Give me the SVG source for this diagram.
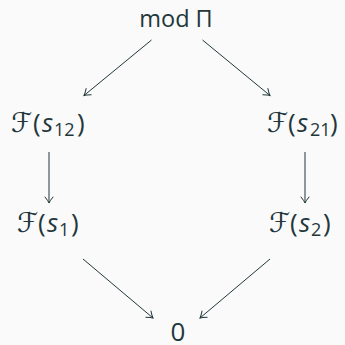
<svg xmlns="http://www.w3.org/2000/svg" width="345" height="345" viewBox="0 0 345 345">
<defs>
<marker id="ah" viewBox="-8 -5 10 10" markerWidth="10" markerHeight="10" refX="0" refY="0" orient="auto" markerUnits="userSpaceOnUse">
<path d="M-6,-4 Q-2,-0.8 0,0 Q-2,0.8 -6,4" fill="none" stroke="#23373b" stroke-width="1" stroke-linecap="round"/>
</marker>
</defs>
<style>
text{font-family:"Open Sans","DejaVu Sans",sans-serif;font-size:26px;fill:#23373b}
.it{font-style:italic}
.sub{font-size:18px}
.cal{font-family:"DejaVu Sans",sans-serif;font-size:27px}
.c line{stroke:#23373b;stroke-width:1;marker-end:url(#ah)}
</style>
<rect width="345" height="345" fill="#fafafa"/>
<g id="modPi"><text x="176" y="27" style="font-size:23.5px;text-anchor:middle">mod Π</text></g>
<g id="Fs12"><text y="132"><tspan class="cal" x="11">ℱ</tspan><tspan x="33">(</tspan><tspan class="it" x="42">s</tspan><tspan class="sub" x="54" dy="4">12</tspan><tspan x="77" dy="-4">)</tspan></text></g>
<g id="Fs21"><text y="132"><tspan class="cal" x="267">ℱ</tspan><tspan x="288">(</tspan><tspan class="it" x="297">s</tspan><tspan class="sub" x="310" dy="4">21</tspan><tspan x="330" dy="-4">)</tspan></text></g>
<g id="Fs1"><text y="232"><tspan class="cal" x="17">ℱ</tspan><tspan x="38">(</tspan><tspan class="it" x="47">s</tspan><tspan class="sub" x="59" dy="4">1</tspan><tspan x="71" dy="-4">)</tspan></text></g>
<g id="Fs2"><text y="232"><tspan class="cal" x="269">ℱ</tspan><tspan x="290">(</tspan><tspan class="it" x="299">s</tspan><tspan class="sub" x="311" dy="4">2</tspan><tspan x="323" dy="-4">)</tspan></text></g>
<g id="zero"><text x="178" y="341" style="font-size:26px;text-anchor:middle">0</text></g>
<g class="c" id="connectors">
<line x1="151.5" y1="40" x2="84" y2="95.5"/>
<line x1="202.5" y1="40" x2="270" y2="95.5"/>
<line x1="49" y1="152" x2="49" y2="203"/>
<line x1="305" y1="152" x2="305" y2="203"/>
<line x1="83" y1="259" x2="153" y2="318"/>
<line x1="270" y1="259" x2="200" y2="318"/>
</g>
</svg>
